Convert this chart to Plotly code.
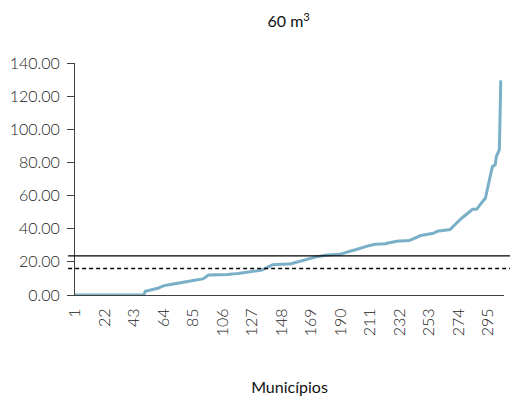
import plotly.graph_objects as go

# Volume por município (ordenado), 60 m³
municipios = list(range(1, 305))
valores = [
    0.0, 0.0, 0.0, 0.0, 0.0, 0.0, 0.0, 0.0, 0.0, 0.0,
    0.0, 0.0, 0.0, 0.0, 0.0, 0.0, 0.0, 0.0, 0.0, 0.0,
    0.0, 0.0, 0.0, 0.0, 0.0, 0.0, 0.0, 0.0, 0.0, 0.0,
    0.0, 0.0, 0.0, 0.0, 0.0, 0.0, 0.0, 0.0, 0.0, 0.0,
    0.0, 0.0, 0.0, 0.0, 0.0, 0.0, 0.0, 0.0, 0.0, 0.0,
    2.3, 2.5, 2.6, 2.8, 2.9, 3.0, 3.2, 3.4, 3.6, 4.1,
    4.5, 4.9, 5.3, 5.6, 5.8, 5.9, 6.0, 6.2, 6.3, 6.5,
    6.6, 6.8, 6.9, 7.1, 7.3, 7.4, 7.6, 7.7, 7.9, 8.0,
    8.2, 8.3, 8.5, 8.6, 8.8, 8.9, 9.0, 9.2, 9.3, 9.4,
    9.6, 9.7, 10.3, 11.0, 11.6, 12.0, 12.0, 12.0, 12.1, 12.1,
    12.1, 12.2, 12.2, 12.2, 12.3, 12.3, 12.3, 12.4, 12.4, 12.4,
    12.5, 12.5, 12.6, 12.7, 12.8, 12.9, 13.0, 13.1, 13.3, 13.4,
    13.5, 13.6, 13.7, 13.8, 13.9, 14.0, 14.2, 14.3, 14.4, 14.5,
    14.6, 14.7, 14.9, 15.0, 15.4, 15.9, 16.3, 16.7, 17.1, 17.5,
    18.0, 18.3, 18.4, 18.4, 18.4, 18.4, 18.5, 18.5, 18.5, 18.5,
    18.5, 18.6, 18.6, 18.7, 18.9, 19.2, 19.4, 19.6, 19.9, 20.1,
    20.3, 20.6, 20.8, 21.0, 21.3, 21.5, 21.7, 22.0, 22.2, 22.4,
    22.7, 22.9, 23.1, 23.3, 23.5, 23.7, 23.9, 24.0, 24.1, 24.1,
    24.2, 24.2, 24.3, 24.3, 24.4, 24.4, 24.5, 24.5, 24.6, 24.7,
    25.0, 25.2, 25.5, 25.7, 26.0, 26.2, 26.5, 26.7, 27.0, 27.2,
    27.5, 27.7, 28.0, 28.2, 28.5, 28.7, 29.0, 29.2, 29.5, 29.7,
    30.0, 30.2, 30.5, 30.5, 30.6, 30.6, 30.7, 30.7, 30.8, 30.8,
    30.9, 30.9, 31.2, 31.4, 31.7, 31.9, 32.1, 32.3, 32.5, 32.5,
    32.6, 32.6, 32.6, 32.7, 32.7, 32.7, 32.8, 32.8, 32.9, 33.3,
    33.7, 34.1, 34.5, 34.9, 35.2, 35.6, 35.9, 36.0, 36.1, 36.2,
    36.3, 36.4, 36.5, 36.6, 36.7, 37.2, 37.7, 38.2, 38.5, 38.6,
    38.7, 38.8, 38.9, 39.0, 39.1, 39.2, 39.3, 39.5, 40.4, 41.3,
    42.1, 42.9, 43.8, 44.6, 45.5, 46.2, 46.9, 47.6, 48.2, 48.6,
    49.2, 50.0, 50.9, 51.7, 51.7, 51.7, 51.8, 53.0, 54.2, 55.4,
    56.5, 57.4, 58.2, 62.0, 66.0, 70.0, 74.0, 77.4, 78.0, 78.5,
    84.0, 86.0, 87.5, 129.5,
]

# Linhas de referência
media = 23.6
mediana = 16.0

x_ticks = [1, 22, 43, 64, 85, 106, 127, 148, 169, 190, 211, 232, 253, 274, 295]
y_ticks = [0, 20, 40, 60, 80, 100, 120, 140]

font_family = "Lato"

fig = go.Figure()
fig.add_trace(go.Scatter(
    x=municipios, y=valores, mode="lines",
    line=dict(color="#7aafc8", width=3),
    showlegend=False, hoverinfo="skip",
))

fig.add_shape(type="line", xref="paper", yref="y", x0=-0.016, x1=1.02,
              y0=media, y1=media, line=dict(color="#000000", width=1.3))
fig.add_shape(type="line", xref="paper", yref="y", x0=-0.016, x1=1.02,
              y0=mediana, y1=mediana, line=dict(color="#000000", width=1.3, dash="4px,3px"))

fig.update_layout(
    width=510, height=396,
    margin=dict(l=75, r=6, t=63, b=101),
    paper_bgcolor="white", plot_bgcolor="white",
    font=dict(family=font_family, size=16, color="#222222", weight=300),
    title=dict(text="60 m<sup>3</sup>", x=0.566, xanchor="center", y=0.945, yanchor="middle",
               font=dict(family=font_family, size=16, color="#111111", weight=400)),
    xaxis=dict(
        range=[1, 306.3], tickmode="array", tickvals=x_ticks,
        ticktext=[str(v) for v in x_ticks], tickangle=-90,
        showgrid=False, zeroline=False, showline=True, linecolor="#404040", linewidth=1,
        ticks="", ticklabelstandoff=6, automargin=False,
        title=dict(text="Municípios", standoff=50,
                   font=dict(family=font_family, size=16, color="#111111", weight=400)),
    ),
    yaxis=dict(
        range=[0, 140], tickmode="array", tickvals=y_ticks,
        ticktext=[f"{v:.2f}" for v in y_ticks],
        showgrid=False, zeroline=False, showline=True, linecolor="#404040", linewidth=1,
        ticks="outside", ticklen=7, tickcolor="#404040", ticklabelstandoff=4,
        automargin=False,
    ),
)

fig.write_html("out.html")
